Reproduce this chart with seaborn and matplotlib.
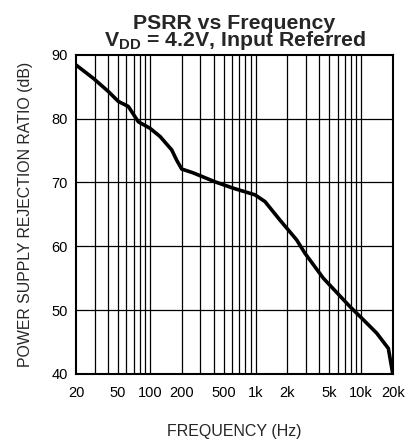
import matplotlib
matplotlib.use("Agg")
import matplotlib.pyplot as plt
import seaborn as sns
import numpy as np
import pandas as pd

freq_hz = [20, 29.2, 40.4, 50.2, 62.5, 77.7, 100, 124.7, 160.8, 179, 200, 257, 413, 615,
           987, 1228, 1702, 2448, 2934, 4376, 7818, 10450, 13990, 18050, 19840]
psrr_db = [88.4, 86.3, 84.25, 82.7, 81.9, 79.5, 78.5, 77.2, 75.1, 73.5, 72.1, 71.5, 70.1, 69.1,
           68.06, 67.0, 64.1, 61.0, 58.9, 55.0, 50.55, 48.5, 46.4, 44.0, 40.1]
xtick_vals = [20, 50, 100, 200, 500, 1000, 2000, 5000, 10000, 20000]
xtick_labels = ["20", "50", "100", "200", "500", "1k", "2k", "5k", "10k", "20k"]
ytick_vals = [40, 50, 60, 70, 80, 90]

sns.set_style("white")
plt.rcParams['font.family'] = ['Liberation Sans', 'DejaVu Sans']
plt.rcParams['mathtext.fontset'] = 'custom'
plt.rcParams['mathtext.rm'] = 'Liberation Sans'
plt.rcParams['mathtext.bf'] = 'Liberation Sans:bold'

df = pd.DataFrame({"f": freq_hz, "psrr": psrr_db})

fig = plt.figure(figsize=(4.09, 4.42), dpi=100)
ax = fig.add_axes([0.186, 0.154, 0.775, 0.722])
ax.set_xscale("log")
ax.set_xlim(20, 20000)
ax.set_ylim(40, 90)

# grid
minor = []
for dec in [10, 100, 1000, 10000]:
    for m in range(1, 10):
        v = m * dec
        if 20 < v < 20000:
            minor.append(v)
for v in minor:
    ax.axvline(v, color="black", lw=0.9, zorder=1)
for v in ytick_vals[1:-1]:
    ax.axhline(v, color="black", lw=0.9, zorder=1)

sns.lineplot(data=df, x="f", y="psrr", ax=ax, color="black", lw=2.6, zorder=3)

ax.set_xticks(xtick_vals)
ax.set_xticklabels(xtick_labels)
ax.xaxis.set_minor_locator(matplotlib.ticker.NullLocator())
ax.set_yticks(ytick_vals)
ax.tick_params(axis="both", length=0, labelsize=10.5, colors="black")
ax.tick_params(axis="x", pad=9)
ax.tick_params(axis="y", pad=6)
for s in ax.spines.values():
    s.set_color("black")
    s.set_linewidth(1.5)

ax.set_xlabel("FREQUENCY (Hz)", fontsize=11.5, labelpad=17)
ax.set_ylabel("POWER SUPPLY REJECTION RATIO (dB)", fontsize=11.4, labelpad=13)
ax.set_title("PSRR vs Frequency\nV$_\\mathbf{DD}$ = 4.2V, Input Referred",
             fontsize=15.3, fontweight="bold", linespacing=0.8, pad=6)

fig.savefig("out.png", dpi=100)
